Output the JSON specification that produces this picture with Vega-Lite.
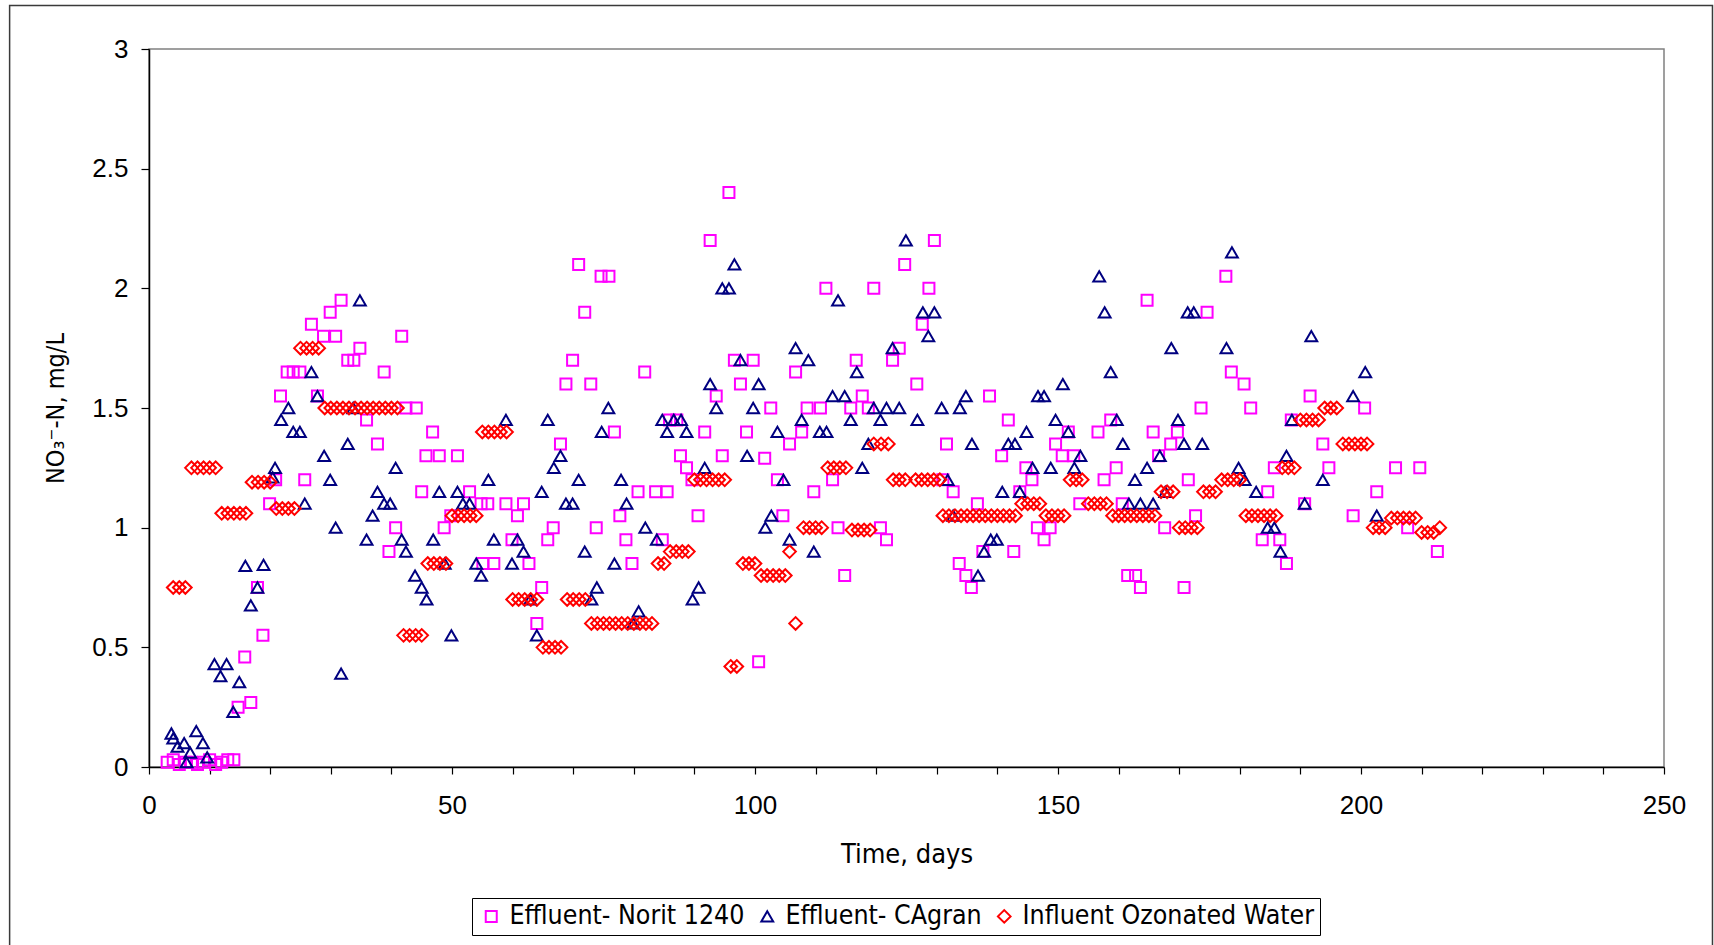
{
"$schema":"https://vega.github.io/schema/vega-lite/v6.json",
"width":1515,"height":718,
"autosize":{"type":"none"},
"padding":{"left":149,"top":49,"right":50,"bottom":178},
"background":"white",
"data":{"values":[
{"s":"N","d":3,"v":0.02},{"s":"N","d":4,"v":0.03},{"s":"N","d":5,"v":0.01},{"s":"N","d":6,"v":0.02},{"s":"N","d":7,"v":0.02},{"s":"N","d":8,"v":0.01},{"s":"N","d":9,"v":0.02},{"s":"N","d":10,"v":0.03},{"s":"N","d":11,"v":0.01},{"s":"N","d":12,"v":0.02},{"s":"N","d":13,"v":0.03},{"s":"N","d":14,"v":0.03},
{"s":"N","d":14.7,"v":0.25},{"s":"N","d":15.8,"v":0.46},{"s":"N","d":16.8,"v":0.27},{"s":"N","d":17.9,"v":0.75},{"s":"N","d":18.8,"v":0.55},{"s":"N","d":19.9,"v":1.1},{"s":"N","d":20.9,"v":1.2},{"s":"N","d":21.7,"v":1.55},{"s":"N","d":22.8,"v":1.65},{"s":"N","d":23.8,"v":1.65},{"s":"N","d":24.9,"v":1.65},{"s":"N","d":25.7,"v":1.2},{"s":"N","d":26.8,"v":1.85},{"s":"N","d":27.8,"v":1.55},{"s":"N","d":28.8,"v":1.8},{"s":"N","d":29.9,"v":1.9},{"s":"N","d":30.8,"v":1.8},{"s":"N","d":31.7,"v":1.95},{"s":"N","d":32.8,"v":1.7},{"s":"N","d":33.8,"v":1.7},{"s":"N","d":34.8,"v":1.75},{"s":"N","d":35.9,"v":1.45},{"s":"N","d":37.7,"v":1.35},{"s":"N","d":38.8,"v":1.65},{"s":"N","d":39.6,"v":0.9},{"s":"N","d":40.7,"v":1.0},{"s":"N","d":41.7,"v":1.8},{"s":"N","d":42.4,"v":1.5},{"s":"N","d":44.1,"v":1.5},
{"s":"N","d":45,"v":1.15},{"s":"N","d":45.7,"v":1.3},{"s":"N","d":46.8,"v":1.4},{"s":"N","d":47.9,"v":1.3},{"s":"N","d":48.7,"v":1.0},{"s":"N","d":49.8,"v":1.05},{"s":"N","d":50.9,"v":1.3},{"s":"N","d":52.9,"v":1.15},{"s":"N","d":54.8,"v":1.1},{"s":"N","d":55.1,"v":0.85},{"s":"N","d":55.9,"v":1.1},{"s":"N","d":56.9,"v":0.85},{"s":"N","d":58.9,"v":1.1},{"s":"N","d":59.9,"v":0.95},{"s":"N","d":60.8,"v":1.05},{"s":"N","d":61.8,"v":1.1},{"s":"N","d":62.7,"v":0.85},{"s":"N","d":64,"v":0.6},{"s":"N","d":64.8,"v":0.75},{"s":"N","d":65.8,"v":0.95},{"s":"N","d":66.7,"v":1.0},{"s":"N","d":67.9,"v":1.35},{"s":"N","d":68.8,"v":1.6},{"s":"N","d":69.9,"v":1.7},{"s":"N","d":70.9,"v":2.1},{"s":"N","d":71.9,"v":1.9},{"s":"N","d":72.9,"v":1.6},{"s":"N","d":73.8,"v":1.0},{"s":"N","d":74.6,"v":2.05},{"s":"N","d":75.9,"v":2.05},{"s":"N","d":76.8,"v":1.4},{"s":"N","d":77.7,"v":1.05},{"s":"N","d":78.7,"v":0.95},{"s":"N","d":79.7,"v":0.85},{"s":"N","d":80.7,"v":1.15},{"s":"N","d":81.8,"v":1.65},{"s":"N","d":83.6,"v":1.15},{"s":"N","d":84.7,"v":0.95},{"s":"N","d":85.5,"v":1.15},{"s":"N","d":85.9,"v":1.45},{"s":"N","d":87.1,"v":1.45},
{"s":"N","d":87.7,"v":1.3},{"s":"N","d":88.7,"v":1.25},{"s":"N","d":89.6,"v":1.2},{"s":"N","d":90.6,"v":1.05},{"s":"N","d":91.7,"v":1.4},{"s":"N","d":92.6,"v":2.2},{"s":"N","d":93.6,"v":1.55},{"s":"N","d":94.6,"v":1.3},{"s":"N","d":95.7,"v":2.4},{"s":"N","d":96.6,"v":1.7},{"s":"N","d":97.6,"v":1.6},{"s":"N","d":98.6,"v":1.4},{"s":"N","d":99.7,"v":1.7},{"s":"N","d":100.6,"v":0.44},{"s":"N","d":101.6,"v":1.29},{"s":"N","d":102.6,"v":1.5},{"s":"N","d":103.7,"v":1.2},{"s":"N","d":104.6,"v":1.05},{"s":"N","d":105.7,"v":1.35},{"s":"N","d":106.7,"v":1.65},{"s":"N","d":107.7,"v":1.4},{"s":"N","d":108.6,"v":1.5},{"s":"N","d":109.7,"v":1.15},{"s":"N","d":110.8,"v":1.5},{"s":"N","d":111.7,"v":2.0},{"s":"N","d":112.8,"v":1.2},{"s":"N","d":113.7,"v":1.0},{"s":"N","d":114.8,"v":0.8},{"s":"N","d":115.8,"v":1.5},{"s":"N","d":116.7,"v":1.7},{"s":"N","d":117.7,"v":1.55},{"s":"N","d":118.7,"v":1.5},{"s":"N","d":119.6,"v":2.0},{"s":"N","d":120.7,"v":1.0},{"s":"N","d":121.7,"v":0.95},{"s":"N","d":122.7,"v":1.7},{"s":"N","d":123.8,"v":1.75},{"s":"N","d":124.7,"v":2.1},{"s":"N","d":126.7,"v":1.6},{"s":"N","d":127.6,"v":1.85},{"s":"N","d":128.7,"v":2.0},{"s":"N","d":129.6,"v":2.2},
{"s":"N","d":131,"v":1.2},{"s":"N","d":131.6,"v":1.35},{"s":"N","d":132.7,"v":1.15},{"s":"N","d":133.7,"v":0.85},{"s":"N","d":134.8,"v":0.8},{"s":"N","d":135.7,"v":0.75},{"s":"N","d":136.7,"v":1.1},{"s":"N","d":137.6,"v":0.9},{"s":"N","d":138.7,"v":1.55},{"s":"N","d":140.7,"v":1.3},{"s":"N","d":141.8,"v":1.45},{"s":"N","d":142.7,"v":0.9},{"s":"N","d":143.7,"v":1.15},{"s":"N","d":144.7,"v":1.25},{"s":"N","d":145.7,"v":1.2},{"s":"N","d":146.6,"v":1.0},{"s":"N","d":147.7,"v":0.95},{"s":"N","d":148.7,"v":1.0},{"s":"N","d":149.6,"v":1.35},{"s":"N","d":150.7,"v":1.3},{"s":"N","d":151.7,"v":1.4},{"s":"N","d":152.6,"v":1.3},{"s":"N","d":153.6,"v":1.1},{"s":"N","d":156.6,"v":1.4},{"s":"N","d":157.6,"v":1.2},{"s":"N","d":158.7,"v":1.45},{"s":"N","d":159.6,"v":1.25},{"s":"N","d":160.6,"v":1.1},{"s":"N","d":161.5,"v":0.8},{"s":"N","d":162.8,"v":0.8},{"s":"N","d":163.6,"v":0.75},{"s":"N","d":164.7,"v":1.95},{"s":"N","d":165.7,"v":1.4},{"s":"N","d":166.6,"v":1.3},{"s":"N","d":167.6,"v":1.0},{"s":"N","d":168.6,"v":1.35},{"s":"N","d":169.7,"v":1.4},{"s":"N","d":170.8,"v":0.75},{"s":"N","d":171.5,"v":1.2},{"s":"N","d":172.7,"v":1.05},
{"s":"N","d":173.6,"v":1.5},{"s":"N","d":174.6,"v":1.9},{"s":"N","d":177.7,"v":2.05},{"s":"N","d":178.6,"v":1.65},{"s":"N","d":180.7,"v":1.6},{"s":"N","d":181.8,"v":1.5},{"s":"N","d":183.7,"v":0.95},{"s":"N","d":184.6,"v":1.15},{"s":"N","d":185.7,"v":1.25},{"s":"N","d":186.6,"v":0.95},{"s":"N","d":187.7,"v":0.85},{"s":"N","d":188.5,"v":1.45},{"s":"N","d":190.7,"v":1.1},{"s":"N","d":191.6,"v":1.55},{"s":"N","d":193.7,"v":1.35},{"s":"N","d":194.7,"v":1.25},{"s":"N","d":198.7,"v":1.05},{"s":"N","d":200.6,"v":1.5},{"s":"N","d":202.6,"v":1.15},{"s":"N","d":205.7,"v":1.25},{"s":"N","d":207.7,"v":1.0},{"s":"N","d":209.7,"v":1.25},{"s":"N","d":212.6,"v":0.9},
{"s":"C","d":3.7,"v":0.14},{"s":"C","d":4.0,"v":0.12},{"s":"C","d":4.7,"v":0.085},{"s":"C","d":5.8,"v":0.1},{"s":"C","d":6.2,"v":0.02},{"s":"C","d":6.8,"v":0.06},{"s":"C","d":7.8,"v":0.15},{"s":"C","d":8.9,"v":0.1},{"s":"C","d":9.6,"v":0.04},
{"s":"C","d":10.8,"v":0.43},{"s":"C","d":11.8,"v":0.38},{"s":"C","d":12.8,"v":0.43},{"s":"C","d":13.9,"v":0.23},{"s":"C","d":14.9,"v":0.355},{"s":"C","d":15.9,"v":0.84},{"s":"C","d":16.8,"v":0.675},{"s":"C","d":17.9,"v":0.75},{"s":"C","d":18.9,"v":0.845},{"s":"C","d":20.4,"v":1.21},{"s":"C","d":20.8,"v":1.25},{"s":"C","d":21.8,"v":1.45},{"s":"C","d":23.0,"v":1.5},{"s":"C","d":23.8,"v":1.4},{"s":"C","d":24.9,"v":1.4},{"s":"C","d":25.7,"v":1.1},{"s":"C","d":26.8,"v":1.65},{"s":"C","d":27.8,"v":1.55},{"s":"C","d":28.9,"v":1.3},{"s":"C","d":29.9,"v":1.2},{"s":"C","d":30.8,"v":1.0},{"s":"C","d":31.7,"v":0.39},{"s":"C","d":32.8,"v":1.35},{"s":"C","d":33.7,"v":1.5},{"s":"C","d":34.8,"v":1.95},{"s":"C","d":35.9,"v":0.95},{"s":"C","d":36.9,"v":1.05},{"s":"C","d":37.7,"v":1.15},{"s":"C","d":38.8,"v":1.1},{"s":"C","d":39.8,"v":1.1},{"s":"C","d":40.7,"v":1.25},{"s":"C","d":41.7,"v":0.95},{"s":"C","d":42.4,"v":0.9},{"s":"C","d":43.9,"v":0.8},{"s":"C","d":45,"v":0.75},{"s":"C","d":45.8,"v":0.7},{"s":"C","d":46.9,"v":0.95},{"s":"C","d":47.9,"v":1.15},{"s":"C","d":48.8,"v":0.85},{"s":"C","d":49.9,"v":0.55},{"s":"C","d":50.9,"v":1.15},{"s":"C","d":51.8,"v":1.1},{"s":"C","d":52.9,"v":1.1},{"s":"C","d":54,"v":0.85},{"s":"C","d":54.8,"v":0.8},{"s":"C","d":56,"v":1.2},{"s":"C","d":56.9,"v":0.95},{"s":"C","d":58.9,"v":1.45},{"s":"C","d":59.9,"v":0.85},{"s":"C","d":60.8,"v":0.95},{"s":"C","d":61.8,"v":0.9},{"s":"C","d":62.9,"v":0.7},{"s":"C","d":64,"v":0.55},{"s":"C","d":64.8,"v":1.15},{"s":"C","d":65.8,"v":1.45},{"s":"C","d":66.8,"v":1.25},{"s":"C","d":67.9,"v":1.3},{"s":"C","d":68.8,"v":1.1},{"s":"C","d":69.9,"v":1.1},{"s":"C","d":70.9,"v":1.2},{"s":"C","d":71.9,"v":0.9},{"s":"C","d":73,"v":0.7},{"s":"C","d":73.9,"v":0.75},{"s":"C","d":74.7,"v":1.4},{"s":"C","d":75.8,"v":1.5},{"s":"C","d":76.8,"v":0.85},{"s":"C","d":77.9,"v":1.2},{"s":"C","d":78.8,"v":1.1},{"s":"C","d":79.9,"v":0.6},{"s":"C","d":80.8,"v":0.65},{"s":"C","d":81.9,"v":1.0},{"s":"C","d":83.8,"v":0.95},{"s":"C","d":84.7,"v":1.45},{"s":"C","d":85.5,"v":1.4},{"s":"C","d":86.6,"v":1.45},{"s":"C","d":87.8,"v":1.45},{"s":"C","d":88.7,"v":1.4},{"s":"C","d":89.7,"v":0.7},{"s":"C","d":90.7,"v":0.75},{"s":"C","d":91.7,"v":1.25},{"s":"C","d":92.6,"v":1.6},{"s":"C","d":93.6,"v":1.5},{"s":"C","d":94.6,"v":2.0},{"s":"C","d":95.7,"v":2.0},{"s":"C","d":96.6,"v":2.1},{"s":"C","d":97.6,"v":1.7},{"s":"C","d":98.7,"v":1.3},{"s":"C","d":99.7,"v":1.5},{"s":"C","d":100.6,"v":1.6},{"s":"C","d":101.7,"v":1.0},{"s":"C","d":102.7,"v":1.05},{"s":"C","d":103.7,"v":1.4},{"s":"C","d":104.7,"v":1.2},{"s":"C","d":105.7,"v":0.95},{"s":"C","d":106.7,"v":1.75},{"s":"C","d":107.7,"v":1.45},{"s":"C","d":108.8,"v":1.7},{"s":"C","d":109.7,"v":0.9},{"s":"C","d":110.7,"v":1.4},{"s":"C","d":111.8,"v":1.4},{"s":"C","d":112.8,"v":1.55},{"s":"C","d":113.7,"v":1.95},{"s":"C","d":114.8,"v":1.55},{"s":"C","d":115.8,"v":1.45},{"s":"C","d":116.8,"v":1.65},{"s":"C","d":117.7,"v":1.25},{"s":"C","d":118.7,"v":1.35},{"s":"C","d":119.6,"v":1.5},{"s":"C","d":120.7,"v":1.45},{"s":"C","d":121.7,"v":1.5},{"s":"C","d":122.7,"v":1.75},{"s":"C","d":123.8,"v":1.5},{"s":"C","d":124.9,"v":2.2},{"s":"C","d":126.8,"v":1.45},{"s":"C","d":127.7,"v":1.9},{"s":"C","d":128.6,"v":1.8},{"s":"C","d":129.6,"v":1.9},{"s":"C","d":130.8,"v":1.5},{"s":"C","d":131.8,"v":1.2},{"s":"C","d":132.7,"v":1.05},{"s":"C","d":133.8,"v":1.5},{"s":"C","d":134.8,"v":1.55},{"s":"C","d":135.8,"v":1.35},{"s":"C","d":136.8,"v":0.8},{"s":"C","d":137.8,"v":0.9},{"s":"C","d":138.9,"v":0.95},{"s":"C","d":139.9,"v":0.95},{"s":"C","d":140.8,"v":1.15},{"s":"C","d":141.8,"v":1.35},{"s":"C","d":142.9,"v":1.35},{"s":"C","d":143.7,"v":1.15},{"s":"C","d":144.8,"v":1.4},{"s":"C","d":145.8,"v":1.25},{"s":"C","d":146.7,"v":1.55},{"s":"C","d":147.7,"v":1.55},{"s":"C","d":148.8,"v":1.25},{"s":"C","d":149.6,"v":1.45},{"s":"C","d":150.8,"v":1.6},{"s":"C","d":151.7,"v":1.4},{"s":"C","d":152.7,"v":1.25},{"s":"C","d":153.7,"v":1.3},{"s":"C","d":156.8,"v":2.05},{"s":"C","d":157.7,"v":1.9},{"s":"C","d":158.7,"v":1.65},{"s":"C","d":159.7,"v":1.45},{"s":"C","d":160.7,"v":1.35},{"s":"C","d":161.7,"v":1.1},{"s":"C","d":162.7,"v":1.2},{"s":"C","d":163.6,"v":1.1},{"s":"C","d":164.7,"v":1.25},{"s":"C","d":165.7,"v":1.1},{"s":"C","d":166.8,"v":1.3},{"s":"C","d":167.7,"v":1.15},{"s":"C","d":168.7,"v":1.75},{"s":"C","d":169.8,"v":1.45},{"s":"C","d":170.8,"v":1.35},{"s":"C","d":171.4,"v":1.9},{"s":"C","d":172.4,"v":1.9},{"s":"C","d":173.8,"v":1.35},{"s":"C","d":177.8,"v":1.75},{"s":"C","d":178.7,"v":2.15},{"s":"C","d":179.8,"v":1.25},{"s":"C","d":180.8,"v":1.2},{"s":"C","d":182.7,"v":1.15},{"s":"C","d":184.6,"v":1.0},{"s":"C","d":185.7,"v":1.0},{"s":"C","d":186.7,"v":0.9},{"s":"C","d":187.7,"v":1.3},{"s":"C","d":188.6,"v":1.45},{"s":"C","d":190.7,"v":1.1},{"s":"C","d":191.8,"v":1.8},{"s":"C","d":193.7,"v":1.2},{"s":"C","d":198.7,"v":1.55},{"s":"C","d":200.7,"v":1.65},{"s":"C","d":202.6,"v":1.05},
{"s":"O","d":4,"v":0.75},{"s":"O","d":5,"v":0.75},{"s":"O","d":6,"v":0.75},
{"s":"O","d":7,"v":1.25},{"s":"O","d":8,"v":1.25},{"s":"O","d":9,"v":1.25},{"s":"O","d":10,"v":1.25},{"s":"O","d":11,"v":1.25},
{"s":"O","d":12,"v":1.06},{"s":"O","d":13,"v":1.06},{"s":"O","d":14,"v":1.06},{"s":"O","d":15,"v":1.06},{"s":"O","d":16,"v":1.06},
{"s":"O","d":17,"v":1.19},{"s":"O","d":18,"v":1.19},{"s":"O","d":19,"v":1.19},{"s":"O","d":20,"v":1.19},
{"s":"O","d":21,"v":1.08},{"s":"O","d":22,"v":1.08},{"s":"O","d":23,"v":1.08},{"s":"O","d":24,"v":1.08},
{"s":"O","d":25,"v":1.75},{"s":"O","d":26,"v":1.75},{"s":"O","d":27,"v":1.75},{"s":"O","d":28,"v":1.75},
{"s":"O","d":29,"v":1.5},{"s":"O","d":30,"v":1.5},{"s":"O","d":31,"v":1.5},{"s":"O","d":32,"v":1.5},{"s":"O","d":33,"v":1.5},{"s":"O","d":34,"v":1.5},{"s":"O","d":35,"v":1.5},{"s":"O","d":36,"v":1.5},{"s":"O","d":37,"v":1.5},{"s":"O","d":38,"v":1.5},{"s":"O","d":39,"v":1.5},{"s":"O","d":40,"v":1.5},{"s":"O","d":41,"v":1.5},
{"s":"O","d":42,"v":0.55},{"s":"O","d":43,"v":0.55},{"s":"O","d":44,"v":0.55},{"s":"O","d":45,"v":0.55},
{"s":"O","d":46,"v":0.85},{"s":"O","d":47,"v":0.85},{"s":"O","d":48,"v":0.85},{"s":"O","d":49,"v":0.85},
{"s":"O","d":50,"v":1.05},{"s":"O","d":51,"v":1.05},{"s":"O","d":52,"v":1.05},{"s":"O","d":53,"v":1.05},{"s":"O","d":54,"v":1.05},
{"s":"O","d":55,"v":1.4},{"s":"O","d":56,"v":1.4},{"s":"O","d":57,"v":1.4},{"s":"O","d":58,"v":1.4},{"s":"O","d":59,"v":1.4},
{"s":"O","d":60,"v":0.7},{"s":"O","d":61,"v":0.7},{"s":"O","d":62,"v":0.7},{"s":"O","d":63,"v":0.7},{"s":"O","d":64,"v":0.7},
{"s":"O","d":65,"v":0.5},{"s":"O","d":66,"v":0.5},{"s":"O","d":67,"v":0.5},{"s":"O","d":68,"v":0.5},
{"s":"O","d":69,"v":0.7},{"s":"O","d":70,"v":0.7},{"s":"O","d":71,"v":0.7},{"s":"O","d":72,"v":0.7},
{"s":"O","d":73,"v":0.6},{"s":"O","d":74,"v":0.6},{"s":"O","d":75,"v":0.6},{"s":"O","d":76,"v":0.6},{"s":"O","d":77,"v":0.6},{"s":"O","d":78,"v":0.6},{"s":"O","d":79,"v":0.6},{"s":"O","d":80,"v":0.6},{"s":"O","d":81,"v":0.6},{"s":"O","d":82,"v":0.6},{"s":"O","d":83,"v":0.6},
{"s":"O","d":84,"v":0.85},{"s":"O","d":85,"v":0.85},
{"s":"O","d":86,"v":0.9},{"s":"O","d":87,"v":0.9},{"s":"O","d":88,"v":0.9},{"s":"O","d":89,"v":0.9},
{"s":"O","d":90,"v":1.2},{"s":"O","d":91,"v":1.2},{"s":"O","d":92,"v":1.2},{"s":"O","d":93,"v":1.2},{"s":"O","d":94,"v":1.2},{"s":"O","d":95,"v":1.2},
{"s":"O","d":96,"v":0.42},{"s":"O","d":97,"v":0.42},
{"s":"O","d":98,"v":0.85},{"s":"O","d":99,"v":0.85},{"s":"O","d":100,"v":0.85},
{"s":"O","d":101,"v":0.8},{"s":"O","d":102,"v":0.8},{"s":"O","d":103,"v":0.8},{"s":"O","d":104,"v":0.8},{"s":"O","d":105,"v":0.8},
{"s":"O","d":105.7,"v":0.9},{"s":"O","d":106.7,"v":0.6},
{"s":"O","d":108,"v":1.0},{"s":"O","d":109,"v":1.0},{"s":"O","d":110,"v":1.0},{"s":"O","d":111,"v":1.0},
{"s":"O","d":112,"v":1.25},{"s":"O","d":113,"v":1.25},{"s":"O","d":114,"v":1.25},{"s":"O","d":115,"v":1.25},
{"s":"O","d":116,"v":0.99},{"s":"O","d":117,"v":0.99},{"s":"O","d":118,"v":0.99},{"s":"O","d":119,"v":0.99},
{"s":"O","d":119.6,"v":1.35},{"s":"O","d":120.8,"v":1.35},{"s":"O","d":122,"v":1.35},
{"s":"O","d":122.8,"v":1.2},{"s":"O","d":123.8,"v":1.2},{"s":"O","d":124.8,"v":1.2},
{"s":"O","d":126.5,"v":1.2},{"s":"O","d":127.5,"v":1.2},{"s":"O","d":128.5,"v":1.2},{"s":"O","d":129.5,"v":1.2},{"s":"O","d":130.5,"v":1.2},
{"s":"O","d":131,"v":1.05},{"s":"O","d":132,"v":1.05},{"s":"O","d":133,"v":1.05},{"s":"O","d":134,"v":1.05},{"s":"O","d":135,"v":1.05},{"s":"O","d":136,"v":1.05},{"s":"O","d":137,"v":1.05},{"s":"O","d":138,"v":1.05},{"s":"O","d":139,"v":1.05},{"s":"O","d":140,"v":1.05},{"s":"O","d":141,"v":1.05},{"s":"O","d":142,"v":1.05},{"s":"O","d":143,"v":1.05},
{"s":"O","d":144,"v":1.1},{"s":"O","d":145,"v":1.1},{"s":"O","d":146,"v":1.1},{"s":"O","d":147,"v":1.1},
{"s":"O","d":148,"v":1.05},{"s":"O","d":149,"v":1.05},{"s":"O","d":150,"v":1.05},{"s":"O","d":151,"v":1.05},
{"s":"O","d":152,"v":1.2},{"s":"O","d":153,"v":1.2},{"s":"O","d":154,"v":1.2},
{"s":"O","d":155,"v":1.1},{"s":"O","d":156,"v":1.1},{"s":"O","d":157,"v":1.1},{"s":"O","d":158,"v":1.1},
{"s":"O","d":159,"v":1.05},{"s":"O","d":160,"v":1.05},{"s":"O","d":161,"v":1.05},{"s":"O","d":162,"v":1.05},{"s":"O","d":163,"v":1.05},{"s":"O","d":164,"v":1.05},{"s":"O","d":165,"v":1.05},{"s":"O","d":166,"v":1.05},
{"s":"O","d":167,"v":1.15},{"s":"O","d":168,"v":1.15},{"s":"O","d":169,"v":1.15},
{"s":"O","d":170,"v":1.0},{"s":"O","d":171,"v":1.0},{"s":"O","d":172,"v":1.0},{"s":"O","d":173,"v":1.0},
{"s":"O","d":174,"v":1.15},{"s":"O","d":175,"v":1.15},{"s":"O","d":176,"v":1.15},
{"s":"O","d":177,"v":1.2},{"s":"O","d":178,"v":1.2},{"s":"O","d":179,"v":1.2},{"s":"O","d":180,"v":1.2},
{"s":"O","d":181,"v":1.05},{"s":"O","d":182,"v":1.05},{"s":"O","d":183,"v":1.05},{"s":"O","d":184,"v":1.05},{"s":"O","d":185,"v":1.05},{"s":"O","d":186,"v":1.05},
{"s":"O","d":187,"v":1.25},{"s":"O","d":188,"v":1.25},{"s":"O","d":189,"v":1.25},
{"s":"O","d":190,"v":1.45},{"s":"O","d":191,"v":1.45},{"s":"O","d":192,"v":1.45},{"s":"O","d":193,"v":1.45},
{"s":"O","d":194,"v":1.5},{"s":"O","d":195,"v":1.5},{"s":"O","d":196,"v":1.5},
{"s":"O","d":197,"v":1.35},{"s":"O","d":198,"v":1.35},{"s":"O","d":199,"v":1.35},{"s":"O","d":200,"v":1.35},{"s":"O","d":201,"v":1.35},
{"s":"O","d":202,"v":1.0},{"s":"O","d":203,"v":1.0},{"s":"O","d":204,"v":1.0},
{"s":"O","d":205,"v":1.04},{"s":"O","d":206,"v":1.04},{"s":"O","d":207,"v":1.04},{"s":"O","d":208,"v":1.04},{"s":"O","d":209,"v":1.04},
{"s":"O","d":210,"v":0.98},{"s":"O","d":211,"v":0.98},{"s":"O","d":212,"v":0.98},
{"s":"O","d":213,"v":1.0}
]},
"resolve":{"axis":{"x":"independent","y":"independent"}},
"layer":[
{"data":{"values":[{"frame":1}]},
 "mark":{"type":"rect","fill":null,"stroke":"#3a3a3a","strokeWidth":1.5,"clip":false},
 "encoding":{
  "x":{"datum":-23.0,"type":"quantitative","scale":{"domain":[0,250],"nice":false,"zero":false},"axis":null},
  "x2":{"datum":258.0},
  "y":{"datum":3.182,"type":"quantitative","scale":{"domain":[0,3],"nice":false,"zero":false},"axis":null},
  "y2":{"datum":-0.78}
 }},
{"mark":{"type":"point","filled":false,"strokeWidth":2,"opacity":1},
 "encoding":{
  "x":{"field":"d","type":"quantitative","scale":{"domain":[0,250],"nice":false,"zero":false},
       "axis":{"orient":"bottom","values":[0,10,20,30,40,50,60,70,80,90,100,110,120,130,140,150,160,170,180,190,200,210,220,230,240,250],
               "labelExpr":"datum.value % 50 === 0 ? datum.label : ''","format":"d","title":"Time, days","tickSize":7,"labelPadding":18,"titlePadding":23}},
  "y":{"field":"v","type":"quantitative","scale":{"domain":[0,3],"nice":false,"zero":false},
       "axis":{"orient":"left","values":[0,0.5,1,1.5,2,2.5,3],"format":"~g","title":"NO₃⁻-N, mg/L","titleFontSize":25,"tickSize":8,"labelPadding":13,"titlePadding":23}},
  "color":{"field":"s","type":"nominal","scale":{"domain":["N","C","O"],"range":["#FF00FF","#000080","#FF0000"]},
           "legend":{"title":null,"labelExpr":"datum.label === 'N' ? 'Effluent- Norit 1240' : datum.label === 'C' ? 'Effluent- CAgran' : 'Influent Ozonated Water'"}},
  "shape":{"field":"s","type":"nominal","scale":{"domain":["N","C","O"],"range":["square","triangle-up","diamond"]},
           "legend":{"title":null,"labelExpr":"datum.label === 'N' ? 'Effluent- Norit 1240' : datum.label === 'C' ? 'Effluent- CAgran' : 'Influent Ozonated Water'"}},
  "size":{"field":"s","type":"nominal","scale":{"domain":["N","C","O"],"range":[121,160,140]},"legend":null}
 }}
],
"config":{
 "view":{"stroke":"#808080","strokeWidth":1.5},
 "axis":{"domainColor":"#000","domainWidth":1.5,"tickColor":"#000","tickWidth":1.2,"grid":false,
         "labelFont":"Liberation Sans","labelFontSize":26,"labelColor":"#000","labelFlush":false,"labelOverlap":false,
         "titleFont":"'Liberation Sans Narrow', 'DejaVu Sans Condensed', 'Liberation Sans', sans-serif","titleFontSize":27,"titleFontWeight":"normal","titleColor":"#000"},
 "legend":{"orient":"none","legendX":323,"legendY":849,"direction":"horizontal","columns":3,
           "strokeColor":"#000","strokeWidth":1,"fillColor":"#fff","padding":5,
           "labelFont":"'Liberation Sans Narrow', 'DejaVu Sans Condensed', 'Liberation Sans', sans-serif","labelFontSize":26.5,"labelLimit":0,"labelColor":"#000","labelOffset":5,"columnPadding":8,
           "symbolStrokeWidth":2,"symbolSize":121,"symbolOffset":1}
}
}
